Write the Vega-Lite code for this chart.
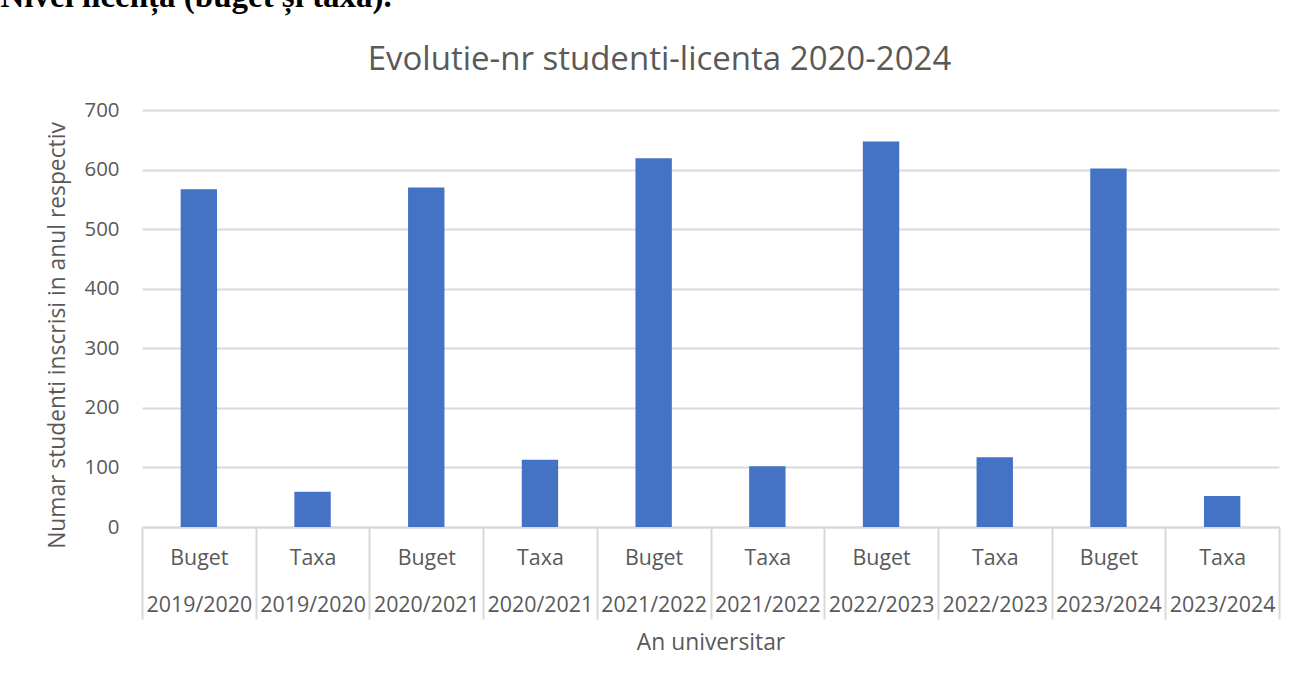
{
  "$schema": "https://vega.github.io/schema/vega-lite/v6.json",
  "width": 1137,
  "height": 417,
  "autosize": {"type": "none"},
  "padding": {"left": 142, "top": 110, "right": 18, "bottom": 155},
  "background": "white",
  "data": {
    "values": [
      {"categorie": "Buget 2019/2020", "tip": "Buget", "an": "2019/2020", "nr": 567},
      {"categorie": "Taxa 2019/2020", "tip": "Taxa", "an": "2019/2020", "nr": 59},
      {"categorie": "Buget 2020/2021", "tip": "Buget", "an": "2020/2021", "nr": 570},
      {"categorie": "Taxa 2020/2021", "tip": "Taxa", "an": "2020/2021", "nr": 113},
      {"categorie": "Buget 2021/2022", "tip": "Buget", "an": "2021/2022", "nr": 619},
      {"categorie": "Taxa 2021/2022", "tip": "Taxa", "an": "2021/2022", "nr": 102},
      {"categorie": "Buget 2022/2023", "tip": "Buget", "an": "2022/2023", "nr": 647},
      {"categorie": "Taxa 2022/2023", "tip": "Taxa", "an": "2022/2023", "nr": 117},
      {"categorie": "Buget 2023/2024", "tip": "Buget", "an": "2023/2024", "nr": 602},
      {"categorie": "Taxa 2023/2024", "tip": "Taxa", "an": "2023/2024", "nr": 52}
    ]
  },
  "layer": [
    {
      "mark": {"type": "bar", "color": "#4472C4", "width": {"band": 0.32}},
      "encoding": {
        "x": {
          "field": "categorie",
          "type": "nominal",
          "sort": null,
          "scale": {"paddingInner": 0, "paddingOuter": 0},
          "axis": {
            "orient": "bottom",
            "title": "An universitar",
            "labelExpr": "split(datum.label, ' ')",
            "labelAngle": 0,
            "labelBaseline": "top",
            "labelLineHeight": 47,
            "labelFontSize": 21.4,
            "labelFont": "Open Sans",
            "labelColor": "#595959",
            "labelPadding": -72,
            "labelOverlap": false,
            "labelBound": false,
            "labelLimit": 200,
            "tickBand": "extent",
            "tickSize": 92,
            "tickWidth": 2,
            "tickColor": "#d9d9d9",
            "domainColor": "#d9d9d9",
            "domainWidth": 2,
            "grid": false,
            "titleFont": "Open Sans",
            "titleFontSize": 22.8,
            "titleFontWeight": "normal",
            "titleColor": "#595959",
            "titleBaseline": "alphabetic",
            "titleY": 122
          }
        },
        "y": {
          "field": "nr",
          "type": "quantitative",
          "scale": {"domain": [0, 700], "nice": false},
          "axis": {
            "orient": "left",
            "title": "Numar studenti inscrisi in anul respectiv",
            "values": [0, 100, 200, 300, 400, 500, 600, 700],
            "domain": false,
            "ticks": false,
            "labelPadding": 23,
            "labelFont": "Open Sans",
            "labelFontSize": 20.4,
            "labelColor": "#595959",
            "gridColor": "#d9d9d9",
            "gridWidth": 2,
            "titleFont": "Open Sans",
            "titleFontSize": 22.8,
            "titleFontWeight": "normal",
            "titleColor": "#595959",
            "titlePadding": 15,
            "titleY": 225
          }
        }
      }
    },
    {
      "mark": {"type": "bar", "opacity": 0},
      "encoding": {
        "x": {
          "field": "categorie",
          "type": "nominal",
          "sort": null,
          "axis": {
            "orient": "top",
            "labels": false,
            "ticks": false,
            "domain": false,
            "grid": false,
            "title": "Evolutie-nr studenti-licenta 2020-2024",
            "titleFont": "Open Sans",
            "titleFontSize": 33,
            "titleFontWeight": "normal",
            "titleColor": "#595959",
            "titleAlign": "center",
            "titleBaseline": "alphabetic",
            "titleX": 517,
            "titleY": -41
          }
        },
        "y": {
          "field": "nr",
          "type": "quantitative",
          "axis": {
            "orient": "right",
            "labels": false,
            "ticks": false,
            "domain": false,
            "grid": false,
            "title": "Nivel licență (buget și taxă).",
            "titleAngle": 0,
            "titleFont": "Liberation Serif",
            "titleFontSize": 33,
            "titleFontWeight": "bold",
            "titleColor": "#000000",
            "titleAlign": "left",
            "titleBaseline": "alphabetic",
            "titleX": -1279,
            "titleY": -104
          }
        }
      }
    }
  ],
  "resolve": {"axis": {"x": "independent", "y": "independent"}},
  "config": {"view": {"stroke": null}}
}
